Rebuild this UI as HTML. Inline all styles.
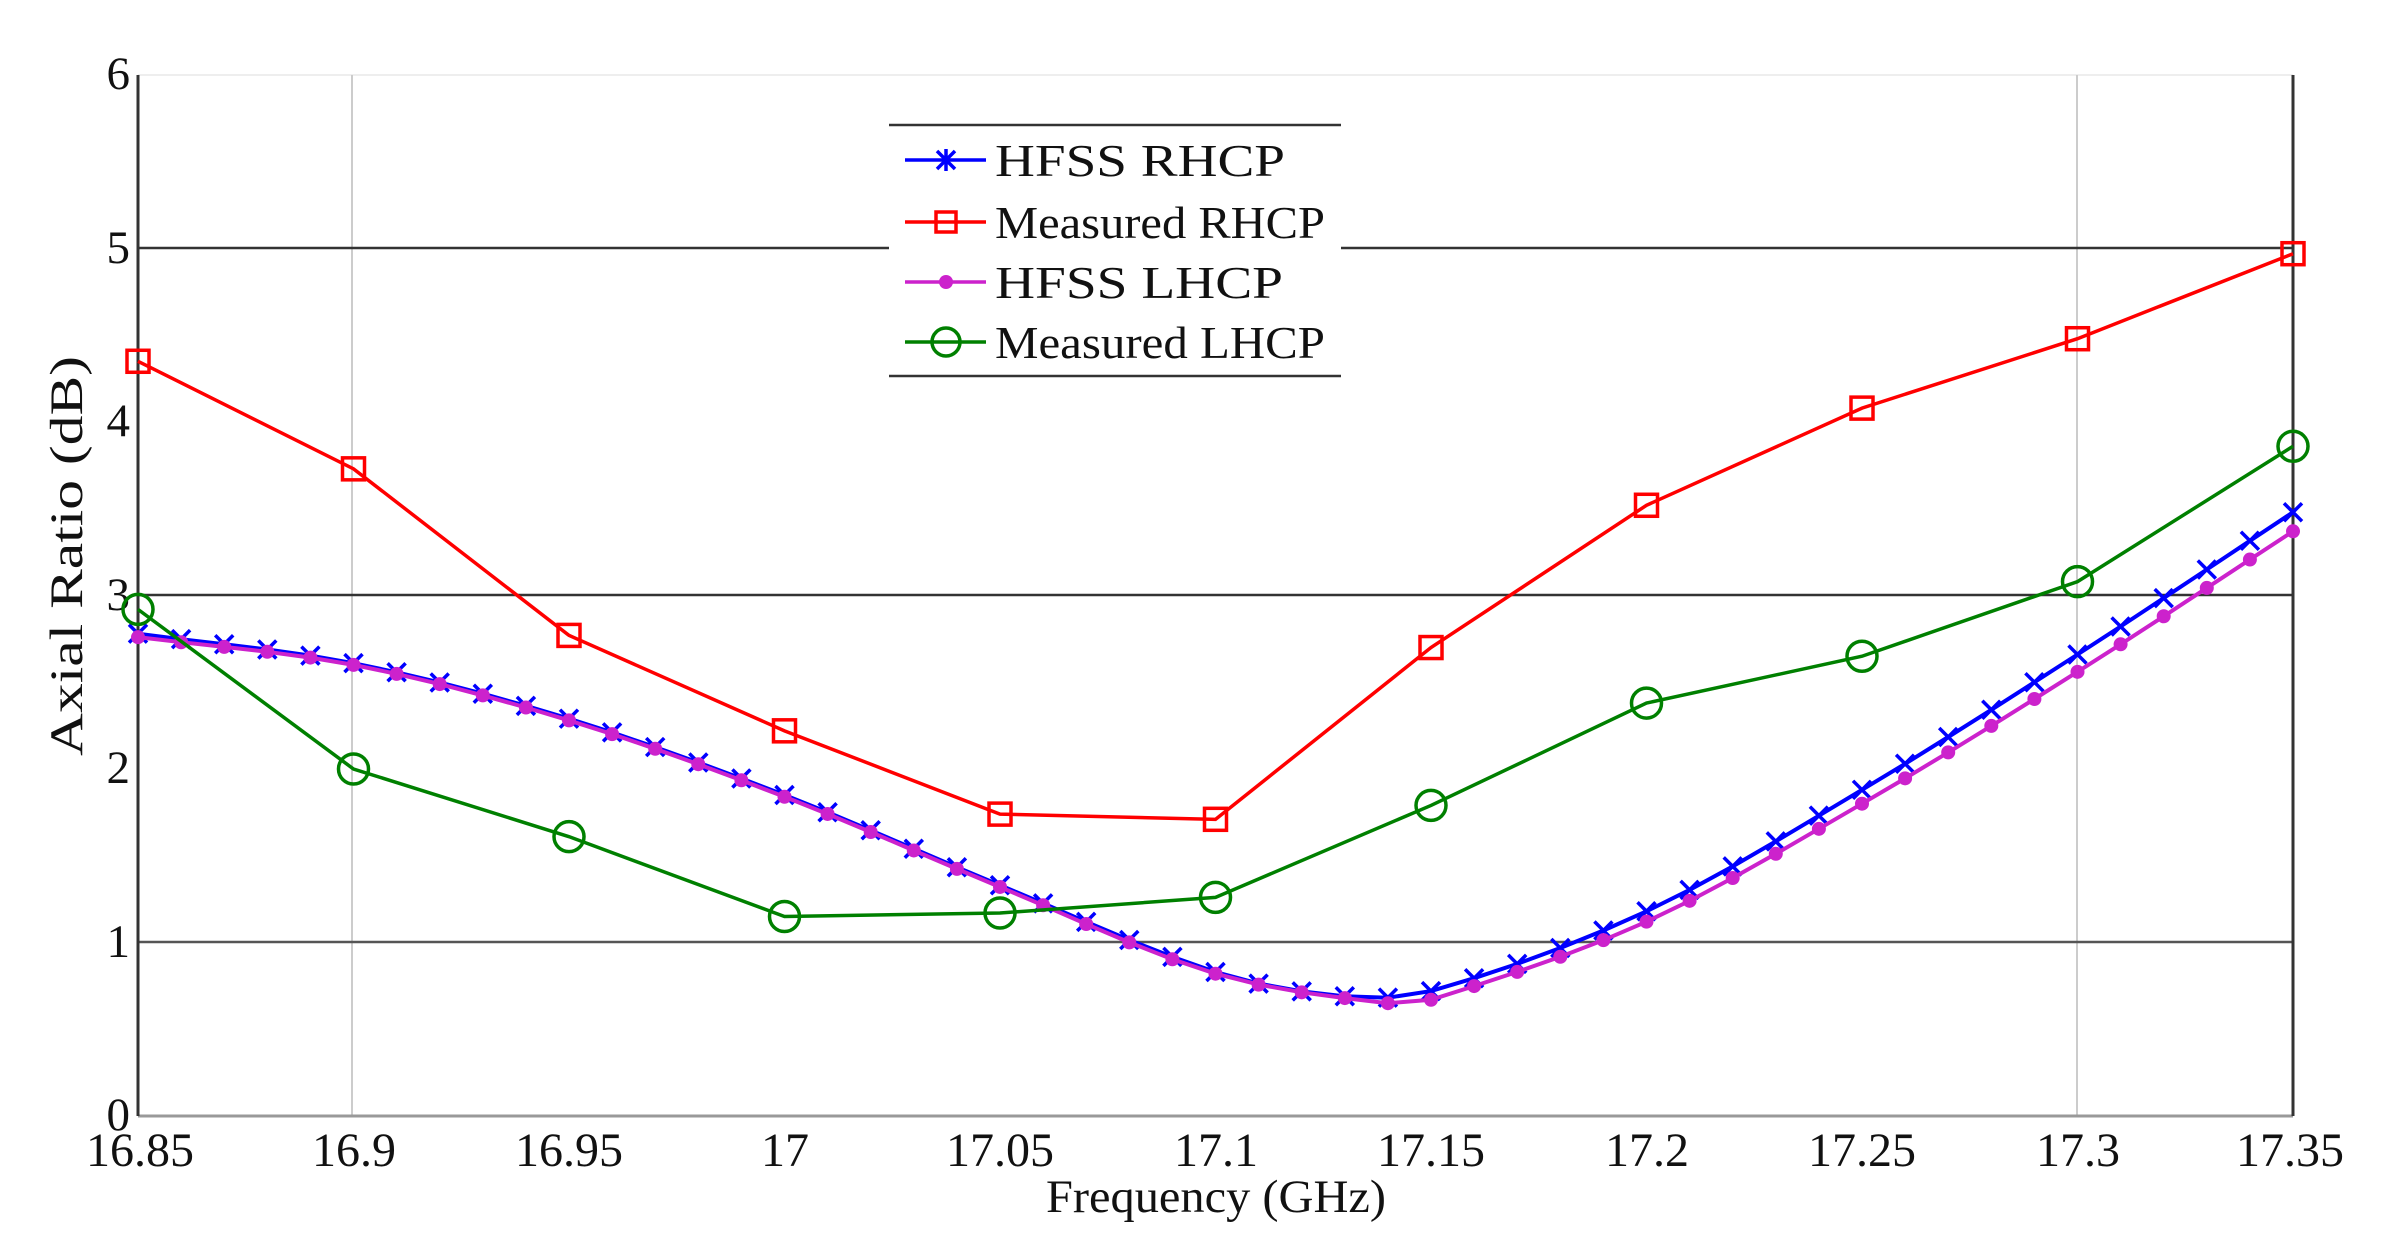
<!DOCTYPE html>
<html><head><meta charset="utf-8"><style>html,body{margin:0;padding:0;background:#fff}svg{display:block}</style></head>
<body>
<svg id="s" width="2400" height="1253" viewBox="0 0 2400 1253" xmlns="http://www.w3.org/2000/svg" font-family="Liberation Serif, serif">
<rect width="2400" height="1253" fill="#fff"/>
<line x1="138" y1="75" x2="2293" y2="75" stroke="#eee" stroke-width="2"/>
<line x1="352" y1="75" x2="352" y2="1116" stroke="#ccc" stroke-width="2"/>
<line x1="2077" y1="75" x2="2077" y2="1116" stroke="#ccc" stroke-width="2"/>
<line x1="138" y1="248" x2="2293" y2="248" stroke="#333" stroke-width="2.5"/>
<line x1="138" y1="595" x2="2293" y2="595" stroke="#333" stroke-width="2.5"/>
<line x1="138" y1="942" x2="2293" y2="942" stroke="#555" stroke-width="2.5"/>
<line x1="138" y1="1116" x2="2293" y2="1116" stroke="#999" stroke-width="3"/>
<line x1="138" y1="75" x2="138" y2="1116" stroke="#333" stroke-width="3"/>
<line x1="2293" y1="75" x2="2293" y2="1116" stroke="#333" stroke-width="3"/>
<g font-size="47" text-anchor="end" fill="#111">
<text x="130" y="89">6</text><text x="130" y="263">5</text><text x="130" y="436">4</text>
<text x="130" y="610">3</text><text x="130" y="783">2</text><text x="130" y="957">1</text><text x="130" y="1130">0</text>
</g>
<g font-size="48" text-anchor="middle" fill="#111">
<text x="140" y="1166">16.85</text><text x="354" y="1166">16.9</text><text x="569" y="1166">16.95</text>
<text x="785" y="1166">17</text><text x="1000" y="1166">17.05</text><text x="1216" y="1166">17.1</text>
<text x="1431" y="1166">17.15</text><text x="1647" y="1166">17.2</text><text x="1862" y="1166">17.25</text>
<text x="2078" y="1166">17.3</text><text x="2290" y="1166">17.35</text>
</g>
<text x="1216" y="1212" font-size="47" text-anchor="middle" fill="#111" textLength="340" lengthAdjust="spacingAndGlyphs">Frequency (GHz)</text>
<text transform="translate(82,556) rotate(-90)" font-size="47" text-anchor="middle" fill="#111" textLength="400" lengthAdjust="spacingAndGlyphs">Axial Ratio (dB)</text>
<g id="series"></g>
<rect x="889" y="125" width="452" height="251" fill="#fff"/>
<line x1="889" y1="125" x2="1341" y2="125" stroke="#333" stroke-width="2.5"/>
<line x1="889" y1="376" x2="1341" y2="376" stroke="#333" stroke-width="2.5"/>
<g stroke-width="3.5" fill="none">
<line x1="905" y1="160" x2="986" y2="160" stroke="#0000ff"/>
<path d="M937 151 L955 169 M955 151 L937 169 M946 149 L946 171" stroke="#0000ff"/>
<line x1="905" y1="222" x2="986" y2="222" stroke="#ff0000"/>
<rect x="936" y="212" width="20" height="20" stroke="#ff0000"/>
<line x1="905" y1="282" x2="986" y2="282" stroke="#cc22cc"/>
<circle cx="946" cy="282" r="7" fill="#cc22cc" stroke="none"/>
<line x1="905" y1="342" x2="986" y2="342" stroke="#008000"/>
<circle cx="946" cy="342" r="14" stroke="#008000"/>
</g>
<g font-size="46" fill="#111">
<text x="995" y="176" textLength="290" lengthAdjust="spacingAndGlyphs">HFSS RHCP</text>
<text x="995" y="238" textLength="330" lengthAdjust="spacingAndGlyphs">Measured RHCP</text>
<text x="995" y="298" textLength="288" lengthAdjust="spacingAndGlyphs">HFSS LHCP</text>
<text x="995" y="358" textLength="330" lengthAdjust="spacingAndGlyphs">Measured LHCP</text>
</g>
</svg>
<script>
(function(){
var NS="http://www.w3.org/2000/svg",g=document.getElementById("series");
function X(f){return 138+(f-16.85)*4310;}
function Y(v){return 1116-v*173.5;}
function el(t,a){var e=document.createElementNS(NS,t);for(var k in a)e.setAttribute(k,a[k]);g.appendChild(e);return e;}
function interp(pts,f){for(var i=0;i<pts.length-1;i++){if(f<=pts[i+1][0]+1e-9){var a=pts[i],b=pts[i+1],t=(f-a[0])/(b[0]-a[0]);
 var p0=pts[Math.max(i-1,0)],p3=pts[Math.min(i+2,pts.length-1)];
 var m1=(b[1]-p0[1])/(b[0]-p0[0]),m2=(p3[1]-a[1])/(p3[0]-a[0]),h=b[0]-a[0];
 var t2=t*t,t3=t2*t;return (2*t3-3*t2+1)*a[1]+(t3-2*t2+t)*h*m1+(-2*t3+3*t2)*b[1]+(t3-t2)*h*m2;}}return pts[pts.length-1][1];}
var rk=[[16.85,2.78],[16.9,2.61],[16.95,2.29],[17.0,1.85],[17.05,1.33],[17.1,0.83],[17.13,0.69],[17.15,0.72],[17.2,1.18],[17.25,1.88],[17.3,2.66],[17.35,3.48]];
var lk=[[16.85,2.76],[16.9,2.6],[16.95,2.28],[17.0,1.84],[17.05,1.32],[17.1,0.82],[17.14,0.65],[17.15,0.67],[17.2,1.12],[17.25,1.8],[17.3,2.56],[17.35,3.37]];
function hfss(pts,col,mk){var d="",P=[];for(var i=0;i<=50;i++){var f=16.85+i*0.01,v=interp(pts,f);P.push([X(f),Y(v)]);d+=(i?"L":"M")+X(f).toFixed(1)+" "+Y(v).toFixed(1);}
 el("path",{d:d,stroke:col,"stroke-width":4,fill:"none"});
 P.forEach(function(p){if(mk=="x"){el("path",{d:"M"+(p[0]-9)+" "+(p[1]-9)+"L"+(p[0]+9)+" "+(p[1]+9)+"M"+(p[0]+9)+" "+(p[1]-9)+"L"+(p[0]-9)+" "+(p[1]+9),stroke:col,"stroke-width":3.5});}
 else el("circle",{cx:p[0],cy:p[1],r:7,fill:col});});}
hfss(rk,"#0000ff","x");hfss(lk,"#cc22cc","o");
function meas(vals,col,mk){var d="";vals.forEach(function(v,i){d+=(i?"L":"M")+X(16.85+i*0.05)+" "+Y(v);});
 el("path",{d:d,stroke:col,"stroke-width":3.5,fill:"none"});
 vals.forEach(function(v,i){var x=X(16.85+i*0.05),y=Y(v);
 if(mk=="s")el("rect",{x:x-11,y:y-11,width:22,height:22,stroke:col,"stroke-width":3.5,fill:"none"});
 else el("circle",{cx:x,cy:y,r:15,stroke:col,"stroke-width":3.5,fill:"none"});});}
meas([4.35,3.73,2.77,2.22,1.74,1.71,2.70,3.52,4.08,4.48,4.97],"#ff0000","s");
meas([2.92,2.0,1.61,1.15,1.17,1.26,1.79,2.38,2.65,3.08,3.86],"#008000","o");
})();
</script>
</body></html>
